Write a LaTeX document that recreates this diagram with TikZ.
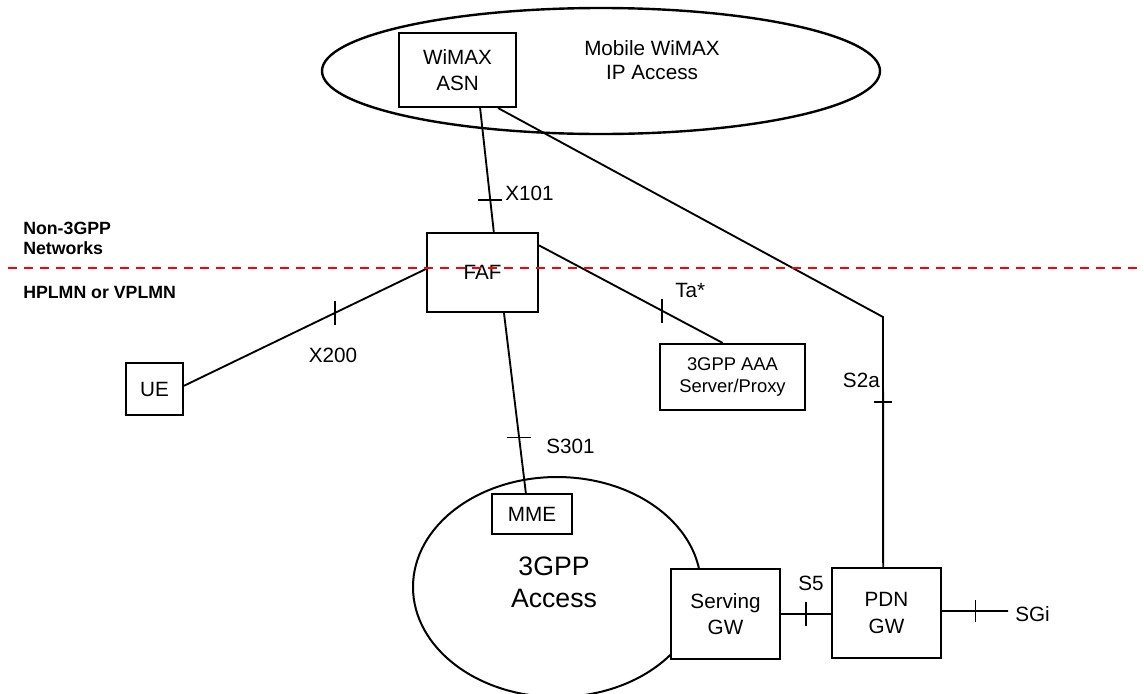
\documentclass[tikz,border=0pt]{standalone}
\usepackage{fontspec}
\setmainfont{Liberation Sans}
\usetikzlibrary{shapes.geometric,calc}
\begin{document}
\begin{tikzpicture}[x=0.75pt,y=-0.75pt,
  box/.style={draw, line width=1.5pt, fill=white, inner sep=0pt, align=center, font=\fontsize{15.5}{20}\selectfont},
  lbl/.style={font=\fontsize{15.5}{19}\selectfont, inner sep=0pt},
  side/.style={font=\fontsize{13.3}{15}\selectfont\bfseries, inner sep=0pt, align=left, anchor=west},
  conn/.style={line width=1.4pt},
  tk/.style={line width=1.2pt},
  reddash/.style={draw=red, line width=1.6pt, dash pattern=on 7pt off 5pt}]
\useasboundingbox (0,0) rectangle (1144,693);

% big areas
\node[ellipse, draw, line width=1.8pt, minimum width=418.5pt, minimum height=94.5pt, inner sep=0pt] (wimax) at (601,71) {};
\node[lbl, align=center, font=\fontsize{15.5}{18}\selectfont] (wimaxtxt) at (652,60) {Mobile WiMAX\\IP Access};
\node[ellipse, draw, line width=1.5pt, minimum width=216pt, minimum height=165pt, inner sep=0pt] (acc) at (557,587) {};
\node[inner sep=0pt, align=center, font=\fontsize{20}{24}\selectfont] (acctxt) at (554,582) {3GPP\\Access};

% boxes
\node[box, minimum width=87.75pt, minimum height=55.5pt] (asn) at (457.5,70) {WiMAX\\ASN};
\node[box, minimum width=83.25pt, minimum height=59.25pt] (faf) at (482.5,272.5) {FAF};
\node[box, minimum width=42.75pt, minimum height=39pt] (ue) at (154.5,389) {UE};
\node[box, minimum width=108.75pt, minimum height=49.5pt, font=\fontsize{13.8}{15.8}\selectfont] (aaa) at (732.5,377) {3GPP AAA\\Server/Proxy};
\node[box, minimum width=60pt, minimum height=30pt] (mme) at (532,514) {MME};
\node[box, minimum width=81.75pt, minimum height=67.5pt] (sgw) at (725.5,614) {Serving\\GW};
\node[box, minimum width=81.75pt, minimum height=67.5pt] (pdn) at (886.5,613) {PDN\\GW};

% connectors
\draw[conn] ($(asn.south west)!0.69!(asn.south east)$) -- coordinate[pos=0.74] (t101) ($(faf.north west)!0.60!(faf.north east)$);
\draw[tk] ([xshift=-9pt]t101) -- ([xshift=9pt]t101);
\node[lbl, anchor=west] (lx101) at (505,193) {X101};

\coordinate (bend) at (883,317);
\draw[conn] ($(asn.south west)!0.84!(asn.south east)$) -- (bend) -- coordinate[pos=0.339] (t2a) ($(pdn.north west)!0.47!(pdn.north east)$);
\draw[tk] ([xshift=-7pt]t2a) -- ([xshift=7pt]t2a);
\node[lbl, anchor=east] (ls2a) at (880,380) {S2a};

\draw[conn] ($(ue.north east)!0.44!(ue.south east)$) -- coordinate[pos=0.623] (t200) ($(faf.north west)!0.456!(faf.south west)$);
\draw[tk] ([yshift=-9pt]t200) -- ([yshift=9pt]t200);
\node[lbl] (lx200) at (333,355) {X200};

\draw[conn] ($(faf.north east)!0.165!(faf.south east)$) -- coordinate[pos=0.67] (tta) ($(aaa.north west)!0.434!(aaa.north east)$);
\draw[tk] ([yshift=-9pt]tta) -- ([yshift=9pt]tta);
\node[lbl, anchor=west] (lta) at (675,290) {Ta*};

\draw[conn] ($(faf.south west)!0.69!(faf.south east)$) -- coordinate[pos=0.692] (t301) ($(mme.north west)!0.425!(mme.north east)$);
\draw[tk] ([xshift=-9pt]t301) -- ([xshift=9pt]t301);
\node[lbl, anchor=west] (ls301) at (546,446) {S301};

\draw[conn] (sgw.east) -- coordinate[pos=0.5] (ts5) (pdn.west |- sgw.east);
\draw[tk] ([yshift=-9pt]ts5) -- ([yshift=9pt]ts5);
\node[lbl] (ls5) at (811,583) {S5};

\coordinate (sgiend) at (1008,611);
\draw[conn] ($(pdn.north east)!0.478!(pdn.south east)$) -- coordinate[pos=0.507] (tsgi) (sgiend);
\draw[tk] ([yshift=-8pt]tsgi) -- ([yshift=8pt]tsgi);
\node[lbl, anchor=west] (lsgi) at (1015,614) {SGi};

% boundary
\coordinate (dl) at (8,268);
\coordinate (dr) at (1144,268);
\draw[reddash] (dl) -- (dr);
\node[side] (nonlbl) at (23,238) {Non-3GPP\\Networks};
\node[side] (plmn) at (23,292) {HPLMN or VPLMN};
\end{tikzpicture}
\end{document}
